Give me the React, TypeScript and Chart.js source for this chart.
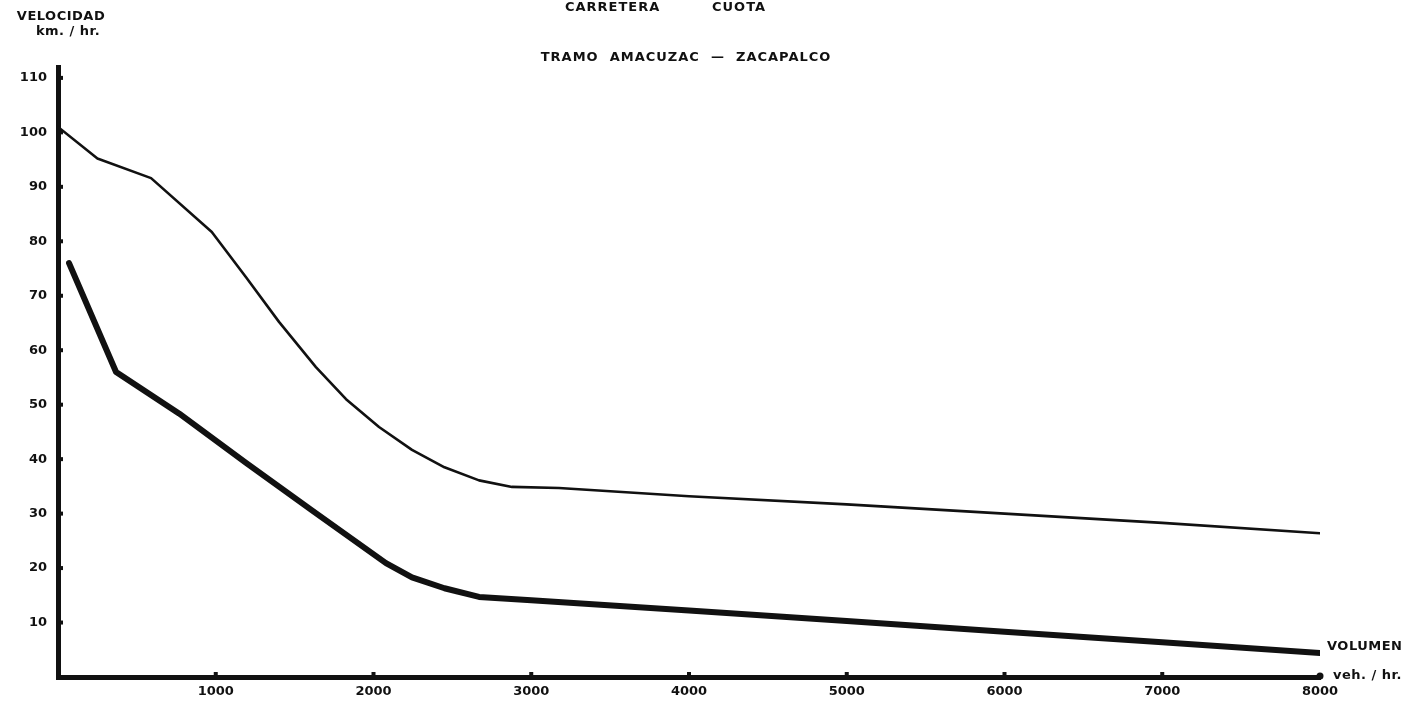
import React, { useEffect, useRef } from 'react';
import { Chart, registerables } from 'chart.js';

Chart.register(...registerables);

// Upper (thin) curve
const volumeUpper = [0, 250, 590, 975, 1192, 1401, 1635, 1826, 2035, 2244, 2450, 2669, 2878, 3176, 4000, 5000, 6000, 7000, 8000];
const speedUpper = [101, 95.2, 91.6, 81.7, 73.4, 65.2, 56.9, 51.0, 45.9, 41.7, 38.5, 36.1, 34.9, 34.7, 33.2, 31.7, 30.0, 28.3, 26.4];

// Lower (thick) curve
const volumeLower = [70, 368, 767, 1192, 1610, 2079, 2244, 2450, 2669, 3000, 4000, 5000, 6000, 7000, 8000];
const speedLower = [76, 56, 48.4, 39.3, 30.6, 20.9, 18.3, 16.3, 14.7, 14.1, 12.2, 10.3, 8.3, 6.4, 4.4];

const xTickValues = [1000, 2000, 3000, 4000, 5000, 6000, 7000, 8000];
const yTickValues = [10, 20, 30, 40, 50, 60, 70, 80, 90, 100, 110];

const titleWord1 = 'CARRETERA';
const titleWord2 = 'CUOTA';
const subtitleText = 'TRAMO  AMACUZAC  —  ZACAPALCO';
const yTitle1 = 'VELOCIDAD';
const yTitle2 = 'km. / hr.';
const xTitle1 = 'VOLUMEN';
const xTitle2 = 'veh. / hr.';

const INK = '#111111';
const FONT = '"DejaVu Sans", "Liberation Sans", sans-serif';

const decorPlugin = {
  id: 'decor',
  afterDraw(chart: any) {
    const ctx = chart.ctx;
    const xs = chart.scales.x;
    const ys = chart.scales.y;
    const area = chart.chartArea;
    ctx.save();
    ctx.fillStyle = INK;
    // inner tick marks
    yTickValues.forEach((v) => {
      const py = ys.getPixelForValue(v);
      ctx.fillRect(area.left + 2, py - 2, 3, 4);
    });
    xTickValues.slice(0, -1).forEach((v) => {
      const px = xs.getPixelForValue(v);
      ctx.fillRect(px - 2, area.bottom - 5, 4, 3);
    });
    // axis end blob
    ctx.beginPath();
    ctx.arc(xs.getPixelForValue(8000), area.bottom - 1, 3.5, 0, Math.PI * 2);
    ctx.fill();

    // texts
    ctx.textBaseline = 'middle';
    ctx.font = `bold 13px ${FONT}`;
    (ctx as any).letterSpacing = '1px';
    ctx.textAlign = 'left';
    ctx.fillText(titleWord1, 565, 8);
    ctx.fillText(titleWord2, 712, 8);
    ctx.textAlign = 'center';
    ctx.fillText(subtitleText, 686, 58);
    (ctx as any).letterSpacing = '0.5px';
    ctx.fillText(yTitle1, 61, 17);
    ctx.fillText(yTitle2, 68, 32);
    ctx.textAlign = 'left';
    ctx.fillText(xTitle1, 1327, 647);
    ctx.fillText(xTitle2, 1333, 676);
    ctx.restore();
  },
};

export default function App() {
  const canvasRef = useRef<HTMLCanvasElement | null>(null);

  useEffect(() => {
    document.body.style.margin = '0';
    document.body.style.background = '#ffffff';
    const canvas = canvasRef.current;
    if (!canvas) return;
    const chart = new Chart(canvas, {
      type: 'line',
      data: {
        datasets: [
          {
            label: 'Superior',
            data: volumeUpper.map((x, i) => ({ x, y: speedUpper[i] })),
            borderColor: INK,
            borderWidth: 2.6,
            pointRadius: 0,
            tension: 0,
            fill: false,
            borderJoinStyle: 'round',
            borderCapStyle: 'round',
          },
          {
            label: 'Inferior',
            data: volumeLower.map((x, i) => ({ x, y: speedLower[i] })),
            borderColor: INK,
            borderWidth: 6,
            pointRadius: 0,
            tension: 0,
            fill: false,
            borderJoinStyle: 'round',
            borderCapStyle: 'round',
          },
        ],
      },
      options: {
        animation: false,
        responsive: false,
        devicePixelRatio: 1,
        layout: { padding: { top: 67, right: 92, left: 0, bottom: 0 } },
        plugins: {
          legend: { display: false },
          tooltip: { enabled: false },
          title: { display: false },
        },
        scales: {
          x: {
            type: 'linear',
            min: 0,
            max: 8000,
            afterFit: (scale: any) => {
              scale.height = 40;
            },
            afterBuildTicks: (scale: any) => {
              scale.ticks = [0, ...xTickValues].map((v) => ({ value: v }));
            },
            ticks: {
              autoSkip: false,
              maxRotation: 0,
              padding: 7,
              color: INK,
              font: { family: FONT, size: 13, weight: 'bold' },
              callback: (v: any) => (v === 0 ? '' : String(v)),
            },
            grid: { drawOnChartArea: false, drawTicks: false, color: 'rgba(0,0,0,0)' },
            border: { display: true, color: INK, width: 5 },
          },
          y: {
            type: 'linear',
            min: 0,
            max: 112,
            afterFit: (scale: any) => {
              scale.width = 58;
            },
            afterBuildTicks: (scale: any) => {
              scale.ticks = [0, ...yTickValues].map((v) => ({ value: v }));
            },
            ticks: {
              autoSkip: false,
              padding: 11,
              color: INK,
              font: { family: FONT, size: 13, weight: 'bold' },
              callback: (v: any) => (v === 0 ? '' : String(v)),
            },
            grid: { drawOnChartArea: false, drawTicks: false, color: 'rgba(0,0,0,0)' },
            border: { display: true, color: INK, width: 5 },
          },
        },
      },
      plugins: [decorPlugin],
    } as any);
    return () => chart.destroy();
  }, []);

  return (
    <div style={{ position: 'fixed', left: 0, top: 0, width: 1412, height: 717, background: '#ffffff' }}>
      <canvas ref={canvasRef} width={1412} height={717} style={{ display: 'block', width: 1412, height: 717 }} />
    </div>
  );
}
